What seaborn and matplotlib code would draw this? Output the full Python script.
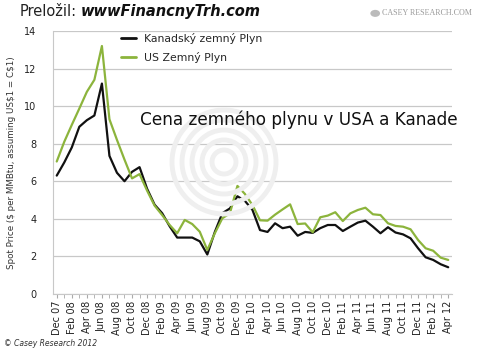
import numpy as np
import pandas as pd
import matplotlib
matplotlib.use("Agg")
import matplotlib.pyplot as plt
import seaborn as sns
from matplotlib.patches import Circle

# Monthly spot prices, Dec 07 .. Apr 12
months = pd.date_range("2007-12-01", "2012-04-01", freq="MS")
month_labels = [m.strftime("%b %y") for m in months]

canada = [6.3, 7.0, 7.8, 8.9, 9.25, 9.5, 11.2, 7.35, 6.45, 6.0, 6.5, 6.75,
          5.6, 4.75, 4.3, 3.6, 3.0, 3.0, 3.0, 2.8, 2.1, 3.3, 4.3, 4.55,
          5.2, 4.95, 4.47, 3.4, 3.3, 3.76, 3.5, 3.58, 3.1, 3.3, 3.25, 3.5,
          3.67, 3.67, 3.35, 3.58, 3.8, 3.9, 3.58, 3.23, 3.55, 3.27, 3.17, 2.96,
          2.43, 1.95, 1.81, 1.58, 1.42]
us = [7.05, 8.1, 9.0, 9.87, 10.76, 11.4, 13.2, 9.3, 8.2, 7.15, 6.15, 6.38,
      5.5, 4.7, 4.2, 3.67, 3.23, 3.94, 3.72, 3.31, 2.34, 3.23, 4.03, 4.29,
      5.75, 5.32, 4.73, 3.92, 3.9, 4.22, 4.5, 4.77, 3.72, 3.75, 3.28, 4.08,
      4.17, 4.35, 3.88, 4.29, 4.47, 4.59, 4.24, 4.2, 3.76, 3.62, 3.58, 3.44,
      2.87, 2.43, 2.3, 1.93, 1.81]

series_names = ["Kanadský zemný Plyn", "US Zemný Plyn"]
colors = ["#111111", "#8cb43c"]

df = pd.DataFrame({
    "idx": list(range(len(months))) * 2,
    "price": canada + us,
    "series": [series_names[0]] * len(canada) + [series_names[1]] * len(us),
})

sns.set_style("white")
fig = plt.figure(figsize=(4.86, 3.52), dpi=100)
ax = fig.add_axes([0.109, 0.165, 0.821, 0.747])

# faint watermark rings (inch coordinates so they stay round)
for r in [0.12, 0.22, 0.32, 0.42, 0.52]:
    fig.patches.append(Circle((2.24, 1.90), r, transform=fig.dpi_scale_trans,
                              fill=False, ec="#efefef", lw=3.5, zorder=0))

sns.lineplot(data=df, x="idx", y="price", hue="series", hue_order=series_names,
             palette=colors, linewidth=1.6, ax=ax, legend=False, zorder=3)

ax.set_xlim(-0.5, len(months) - 0.5)
ax.set_ylim(0, 14)
ax.set_yticks(range(0, 15, 2))
ax.yaxis.grid(True, color="#c8c8c8", lw=0.9)
ax.set_xticks(range(0, len(months), 2))
ax.set_xticklabels(month_labels[::2], rotation=90, fontsize=7, color="#222222")
ax.set_xticks(range(len(months)), minor=True)
ax.tick_params(axis="x", which="both", length=3, color="#aaaaaa", pad=2, bottom=True)
ax.tick_params(axis="y", labelsize=7, length=0, pad=12, labelcolor="#222222")
for s in ["top", "right"]:
    ax.spines[s].set_visible(False)
for s in ["left", "bottom"]:
    ax.spines[s].set_color("#c8c8c8")
ax.patch.set_alpha(0)
ax.set_xlabel("")
ax.set_ylabel("Spot Price ($ per MMBtu, assuming US$1 = C$1)", fontsize=6.3,
              color="#333333", labelpad=6)

handles = [plt.Line2D([], [], color=c, lw=2) for c in colors]
ax.legend(handles, series_names, loc="upper left", bbox_to_anchor=(0.145, 1.03),
          frameon=False, fontsize=7.8, handlelength=1.4, labelspacing=0.75)

fig.text(0.615, 0.659, "Cena zemného plynu v USA a Kanade", fontsize=12.2,
         ha="center", va="center", color="#111111")
t1 = fig.text(0.041, 0.968, "Preložil:", fontsize=10.5, va="center", color="#222222")
fig.canvas.draw()
bb = t1.get_window_extent().transformed(fig.transFigure.inverted())
fig.text(bb.x1 + 0.008, 0.968, "wwwFinancnyTrh.com", fontsize=10.5, va="center",
         fontweight="bold", style="italic", color="#111111")
fig.text(0.785, 0.962, "CASEY RESEARCH.COM", fontsize=5.8, va="center",
         color="#9a9a9a", family="Liberation Serif")
fig.patches.append(Circle((0.772, 0.962), 0.010, transform=fig.transFigure,
                          fc="#bbbbbb", ec="none"))
fig.text(0.008, 0.025, "© Casey Research 2012", fontsize=5.5, style="italic",
         color="#333333", va="center")

fig.savefig("out.png", dpi=100)
